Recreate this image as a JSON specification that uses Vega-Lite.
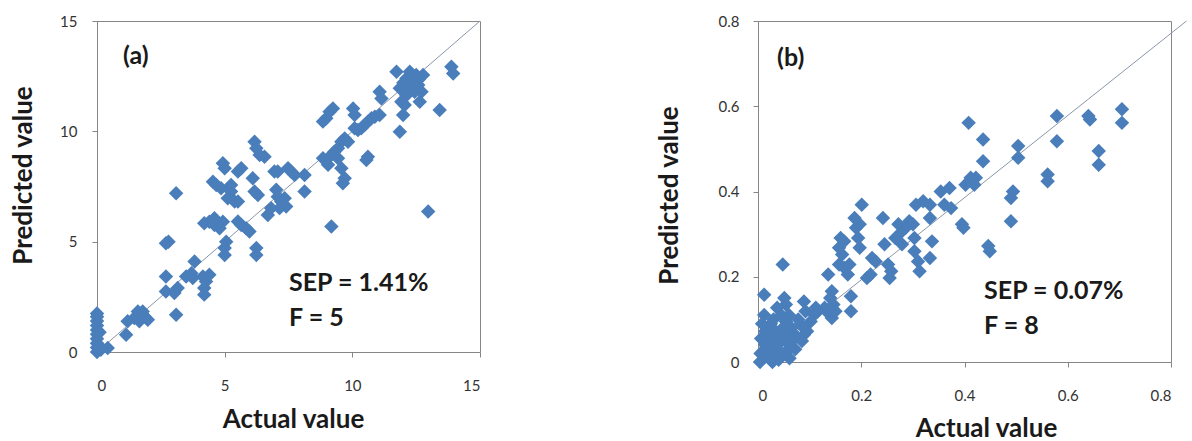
{
  "$schema": "https://vega.github.io/schema/vega-lite/v6.json",
  "padding": {"left": 10, "top": 13, "right": 0, "bottom": 0},
  "bounds": "flush",
  "spacing": 278,
  "config": {
    "view": {"stroke": "#868686", "strokeWidth": 1},
    "font": "Lato",
    "axis": {
      "grid": false,
      "domainColor": "#868686",
      "tickColor": "#868686",
      "tickSize": 5,
      "labelFont": "Lato",
      "labelFontSize": 15,
      "labelColor": "#333333",
      "titleFont": "Lato",
      "titleFontSize": 26,
      "titleFontWeight": "bold",
      "titleColor": "#1a1a1a"
    }
  },
  "datasets": {
    "a": [
      {"x":0,"y":0},{"x":0,"y":0.2},{"x":0,"y":0.4},{"x":0,"y":0.6},{"x":0,"y":0.8},{"x":0,"y":1.0},{"x":0,"y":1.2},{"x":0,"y":1.4},{"x":0,"y":1.6},{"x":0,"y":1.75},{"x":0.08,"y":0.3},{"x":0.1,"y":0.9},{"x":0.15,"y":0.1},{"x":0.42,"y":0.18},
      {"x":1.14,"y":0.78},{"x":1.2,"y":1.39},{"x":1.6,"y":1.84},{"x":1.66,"y":1.39},{"x":1.86,"y":1.61},{"x":1.99,"y":1.46},{"x":1.46,"y":1.54},{"x":1.79,"y":1.84},
      {"x":2.7,"y":2.74},{"x":2.7,"y":3.42},{"x":2.7,"y":4.93},{"x":2.8,"y":5.0},{"x":3.1,"y":1.69},{"x":3.1,"y":7.19},{"x":3.03,"y":2.67},{"x":3.16,"y":2.9},{"x":3.49,"y":3.42},{"x":3.7,"y":3.57},{"x":3.82,"y":4.1},{"x":3.75,"y":3.35},
      {"x":4.2,"y":2.6},{"x":4.2,"y":2.9},{"x":4.27,"y":3.2},{"x":4.4,"y":3.5},{"x":4.15,"y":3.42},
      {"x":4.2,"y":5.84},{"x":4.4,"y":5.9},{"x":4.6,"y":6.06},{"x":4.54,"y":7.72},{"x":4.67,"y":7.57},{"x":4.86,"y":7.42},{"x":4.6,"y":5.76},{"x":4.8,"y":5.61},{"x":4.93,"y":5.9},
      {"x":4.93,"y":8.55},{"x":5.0,"y":8.33},{"x":5.0,"y":4.71},{"x":5.0,"y":4.4},{"x":5.06,"y":5.0},{"x":5.12,"y":6.97},{"x":5.25,"y":7.27},{"x":5.39,"y":6.82},{"x":5.52,"y":8.18},{"x":5.65,"y":8.33},{"x":5.25,"y":7.57},{"x":5.52,"y":6.82},
      {"x":5.52,"y":5.91},{"x":5.65,"y":5.76},{"x":5.84,"y":5.61},{"x":5.97,"y":5.46},{"x":6.17,"y":9.53},{"x":6.24,"y":9.23},{"x":6.1,"y":7.87},{"x":6.17,"y":7.27},{"x":6.3,"y":7.12},{"x":6.24,"y":4.71},{"x":6.24,"y":4.4},
      {"x":6.37,"y":8.93},{"x":6.56,"y":8.85},{"x":6.69,"y":6.21},{"x":6.82,"y":6.52},{"x":6.95,"y":8.18},{"x":7.08,"y":8.18},{"x":7.02,"y":7.35},{"x":7.08,"y":7.04},{"x":7.21,"y":6.82},{"x":7.35,"y":6.97},{"x":7.41,"y":6.59},{"x":7.15,"y":6.52},{"x":7.48,"y":8.33},{"x":7.6,"y":8.18},{"x":7.74,"y":8.02},
      {"x":8.13,"y":8.02},{"x":8.13,"y":7.27},{"x":8.85,"y":10.44},{"x":9.11,"y":10.89},{"x":8.98,"y":10.59},{"x":9.24,"y":11.04},{"x":8.85,"y":8.78},{"x":9.05,"y":8.48},{"x":9.18,"y":8.93},{"x":9.18,"y":5.69},
      {"x":9.3,"y":9.08},{"x":9.44,"y":9.23},{"x":9.57,"y":9.53},{"x":9.7,"y":9.68},{"x":9.83,"y":9.53},{"x":9.57,"y":8.33},{"x":9.7,"y":7.87},{"x":9.63,"y":7.65},{"x":9.44,"y":8.78},
      {"x":10.03,"y":11.04},{"x":10.09,"y":10.74},{"x":10.09,"y":10.14},{"x":10.22,"y":10.06},{"x":10.35,"y":10.14},{"x":10.48,"y":10.29},{"x":10.61,"y":10.44},{"x":10.61,"y":8.85},{"x":10.55,"y":8.7},{"x":10.75,"y":10.59},{"x":10.88,"y":10.66},{"x":11.07,"y":10.74},{"x":11.07,"y":11.79},{"x":11.14,"y":11.49},
      {"x":11.86,"y":9.98},{"x":11.73,"y":12.7},{"x":11.86,"y":11.95},{"x":11.92,"y":11.34},{"x":11.99,"y":10.74},{"x":12.05,"y":11.19},{"x":12.12,"y":12.4},{"x":12.25,"y":12.1},{"x":12.38,"y":12.25},{"x":12.5,"y":12.55},{"x":12.58,"y":12.1},{"x":12.71,"y":11.79},{"x":12.77,"y":12.55},{"x":12.25,"y":12.7},{"x":12.44,"y":11.79},{"x":12.64,"y":11.34},{"x":12.12,"y":11.64},{"x":12.31,"y":12.4},
      {"x":12.0,"y":12.2},{"x":12.45,"y":12.0},{"x":12.6,"y":12.35},{"x":12.18,"y":11.9},
      {"x":12.97,"y":6.37},{"x":13.42,"y":10.97},{"x":13.88,"y":12.93},{"x":13.95,"y":12.62}
    ],
    "b": [
      {"x":0.004,"y":0.0},{"x":0.01,"y":0.025},{"x":0.014,"y":0.04},{"x":0.014,"y":0.072},{"x":0.012,"y":0.11},{"x":0.012,"y":0.158},{"x":0.006,"y":0.055},{"x":0.008,"y":0.09},
      {"x":0.024,"y":0.033},{"x":0.027,"y":0.056},{"x":0.034,"y":0.072},{"x":0.041,"y":0.025},{"x":0.044,"y":0.049},{"x":0.048,"y":0.08},{"x":0.054,"y":0.095},{"x":0.051,"y":0.15},{"x":0.054,"y":0.135},{"x":0.058,"y":0.064},{"x":0.061,"y":0.033},{"x":0.061,"y":0.009},{"x":0.065,"y":0.049},{"x":0.068,"y":0.064},{"x":0.037,"y":0.127},{"x":0.02,"y":0.08},{"x":0.031,"y":0.013},{"x":0.02,"y":0.049},{"x":0.03,"y":0.1},{"x":0.045,"y":0.11},{"x":0.017,"y":0.015},{"x":0.038,"y":0.04},{"x":0.052,"y":0.02},{"x":0.072,"y":0.03},
      {"x":0.005,"y":0.02},{"x":0.015,"y":0.06},{"x":0.025,"y":0.09},{"x":0.035,"y":0.03},{"x":0.045,"y":0.065},{"x":0.055,"y":0.05},{"x":0.065,"y":0.08},{"x":0.075,"y":0.06},{"x":0.04,"y":0.005},{"x":0.028,"y":0.0},{"x":0.06,"y":0.11},{"x":0.078,"y":0.1},
      {"x":0.048,"y":0.229},
      {"x":0.082,"y":0.088},{"x":0.085,"y":0.049},{"x":0.089,"y":0.064},{"x":0.089,"y":0.142},{"x":0.092,"y":0.119},{"x":0.095,"y":0.072},{"x":0.102,"y":0.095},{"x":0.109,"y":0.111},{"x":0.112,"y":0.127},{"x":0.116,"y":0.119},
      {"x":0.129,"y":0.127},{"x":0.136,"y":0.115},{"x":0.14,"y":0.15},{"x":0.143,"y":0.103},{"x":0.146,"y":0.135},{"x":0.15,"y":0.119},{"x":0.136,"y":0.205},{"x":0.143,"y":0.166},
      {"x":0.157,"y":0.268},{"x":0.16,"y":0.291},{"x":0.167,"y":0.283},{"x":0.163,"y":0.252},{"x":0.157,"y":0.229},{"x":0.167,"y":0.221},{"x":0.174,"y":0.205},{"x":0.18,"y":0.154},{"x":0.18,"y":0.119},{"x":0.177,"y":0.229},
      {"x":0.187,"y":0.338},{"x":0.19,"y":0.315},{"x":0.197,"y":0.323},{"x":0.201,"y":0.369},{"x":0.194,"y":0.291},{"x":0.197,"y":0.268},
      {"x":0.211,"y":0.197},{"x":0.218,"y":0.205},{"x":0.221,"y":0.244},{"x":0.228,"y":0.236},
      {"x":0.242,"y":0.338},{"x":0.245,"y":0.276},{"x":0.252,"y":0.229},{"x":0.255,"y":0.197},{"x":0.258,"y":0.213},
      {"x":0.266,"y":0.291},{"x":0.272,"y":0.323},{"x":0.279,"y":0.307},{"x":0.286,"y":0.315},{"x":0.293,"y":0.33},{"x":0.3,"y":0.323},{"x":0.303,"y":0.291},{"x":0.279,"y":0.276},
      {"x":0.303,"y":0.26},{"x":0.31,"y":0.236},{"x":0.313,"y":0.213},{"x":0.306,"y":0.369},{"x":0.32,"y":0.377},{"x":0.333,"y":0.369},{"x":0.333,"y":0.338},{"x":0.337,"y":0.283},{"x":0.333,"y":0.244},
      {"x":0.354,"y":0.4},{"x":0.361,"y":0.369},{"x":0.371,"y":0.408},{"x":0.374,"y":0.361},
      {"x":0.395,"y":0.323},{"x":0.398,"y":0.315},{"x":0.402,"y":0.416},{"x":0.412,"y":0.432},{"x":0.419,"y":0.416},{"x":0.422,"y":0.432},
      {"x":0.408,"y":0.561},{"x":0.436,"y":0.522},{"x":0.436,"y":0.471},
      {"x":0.446,"y":0.272},{"x":0.449,"y":0.26},
      {"x":0.49,"y":0.385},{"x":0.494,"y":0.4},{"x":0.49,"y":0.33},
      {"x":0.504,"y":0.507},{"x":0.504,"y":0.479},
      {"x":0.561,"y":0.44},{"x":0.561,"y":0.424},
      {"x":0.579,"y":0.577},{"x":0.579,"y":0.518},
      {"x":0.64,"y":0.577},{"x":0.643,"y":0.569},
      {"x":0.66,"y":0.495},{"x":0.66,"y":0.463},
      {"x":0.705,"y":0.593},{"x":0.705,"y":0.561}
    ],
    "la": [{"x":0,"y":0},{"x":15,"y":15}],
    "lb": [{"x":0,"y":0},{"x":0.83,"y":0.8}],
    "ta": [{"x":1.02,"y":13.05,"t":"(a)"},{"x":7.52,"y":2.76,"t":"SEP = 1.41%"},{"x":7.52,"y":1.18,"t":"F = 5"}],
    "tb": [{"x":0.037,"y":0.694,"t":"(b)"},{"x":0.438,"y":0.148,"t":"SEP = 0.07%"},{"x":0.438,"y":0.066,"t":"F = 8"}]
  },
  "hconcat": [
    {
      "width": 383,
      "height": 331,
      "layer": [
        {
          "data": {"name": "la"},
          "mark": {"type": "line", "color": "#8a96a8", "strokeWidth": 1},
          "encoding": {
            "x": {"field": "x", "type": "quantitative"},
            "y": {"field": "y", "type": "quantitative"}
          }
        },
        {
          "data": {"name": "a"},
          "mark": {"type": "point", "shape": "diamond", "filled": true, "size": 210, "color": "#4a7ebb", "opacity": 1},
          "encoding": {
            "x": {"field": "x", "type": "quantitative", "scale": {"domain": [0, 15], "nice": false},
              "axis": {"values": [0, 5, 10, 15], "title": "Actual value", "labelPadding": 21, "titlePadding": 13, "titleX": 196}},
            "y": {"field": "y", "type": "quantitative", "scale": {"domain": [0, 15], "nice": false},
              "axis": {"values": [0, 5, 10, 15], "title": "Predicted value", "labelPadding": 15, "titlePadding": 23, "titleY": 154}}
          }
        },
        {
          "data": {"name": "ta"},
          "mark": {"type": "text", "align": "left", "baseline": "alphabetic", "font": "Lato", "fontSize": 25, "fontWeight": "bold", "color": "#1a1a1a"},
          "encoding": {
            "x": {"field": "x", "type": "quantitative"},
            "y": {"field": "y", "type": "quantitative"},
            "text": {"field": "t"}
          }
        }
      ]
    },
    {
      "width": 413,
      "height": 341,
      "layer": [
        {
          "data": {"name": "lb"},
          "mark": {"type": "line", "color": "#8a96a8", "strokeWidth": 1},
          "encoding": {
            "x": {"field": "x", "type": "quantitative"},
            "y": {"field": "y", "type": "quantitative"}
          }
        },
        {
          "data": {"name": "b"},
          "mark": {"type": "point", "shape": "diamond", "filled": true, "size": 210, "color": "#4a7ebb", "opacity": 1},
          "encoding": {
            "x": {"field": "x", "type": "quantitative", "scale": {"domain": [0, 0.8], "nice": false},
              "axis": {"values": [0, 0.2, 0.4, 0.6, 0.8], "format": "~g", "title": "Actual value", "labelPadding": 21, "titlePadding": 12, "titleX": 228}},
            "y": {"field": "y", "type": "quantitative", "scale": {"domain": [0, 0.8], "nice": false},
              "axis": {"values": [0, 0.2, 0.4, 0.6, 0.8], "format": "~g", "title": "Predicted value", "labelPadding": 14, "titlePadding": 36, "titleY": 174}}
          }
        },
        {
          "data": {"name": "tb"},
          "mark": {"type": "text", "align": "left", "baseline": "alphabetic", "font": "Lato", "fontSize": 25, "fontWeight": "bold", "color": "#1a1a1a"},
          "encoding": {
            "x": {"field": "x", "type": "quantitative"},
            "y": {"field": "y", "type": "quantitative"},
            "text": {"field": "t"}
          }
        }
      ]
    }
  ]
}
